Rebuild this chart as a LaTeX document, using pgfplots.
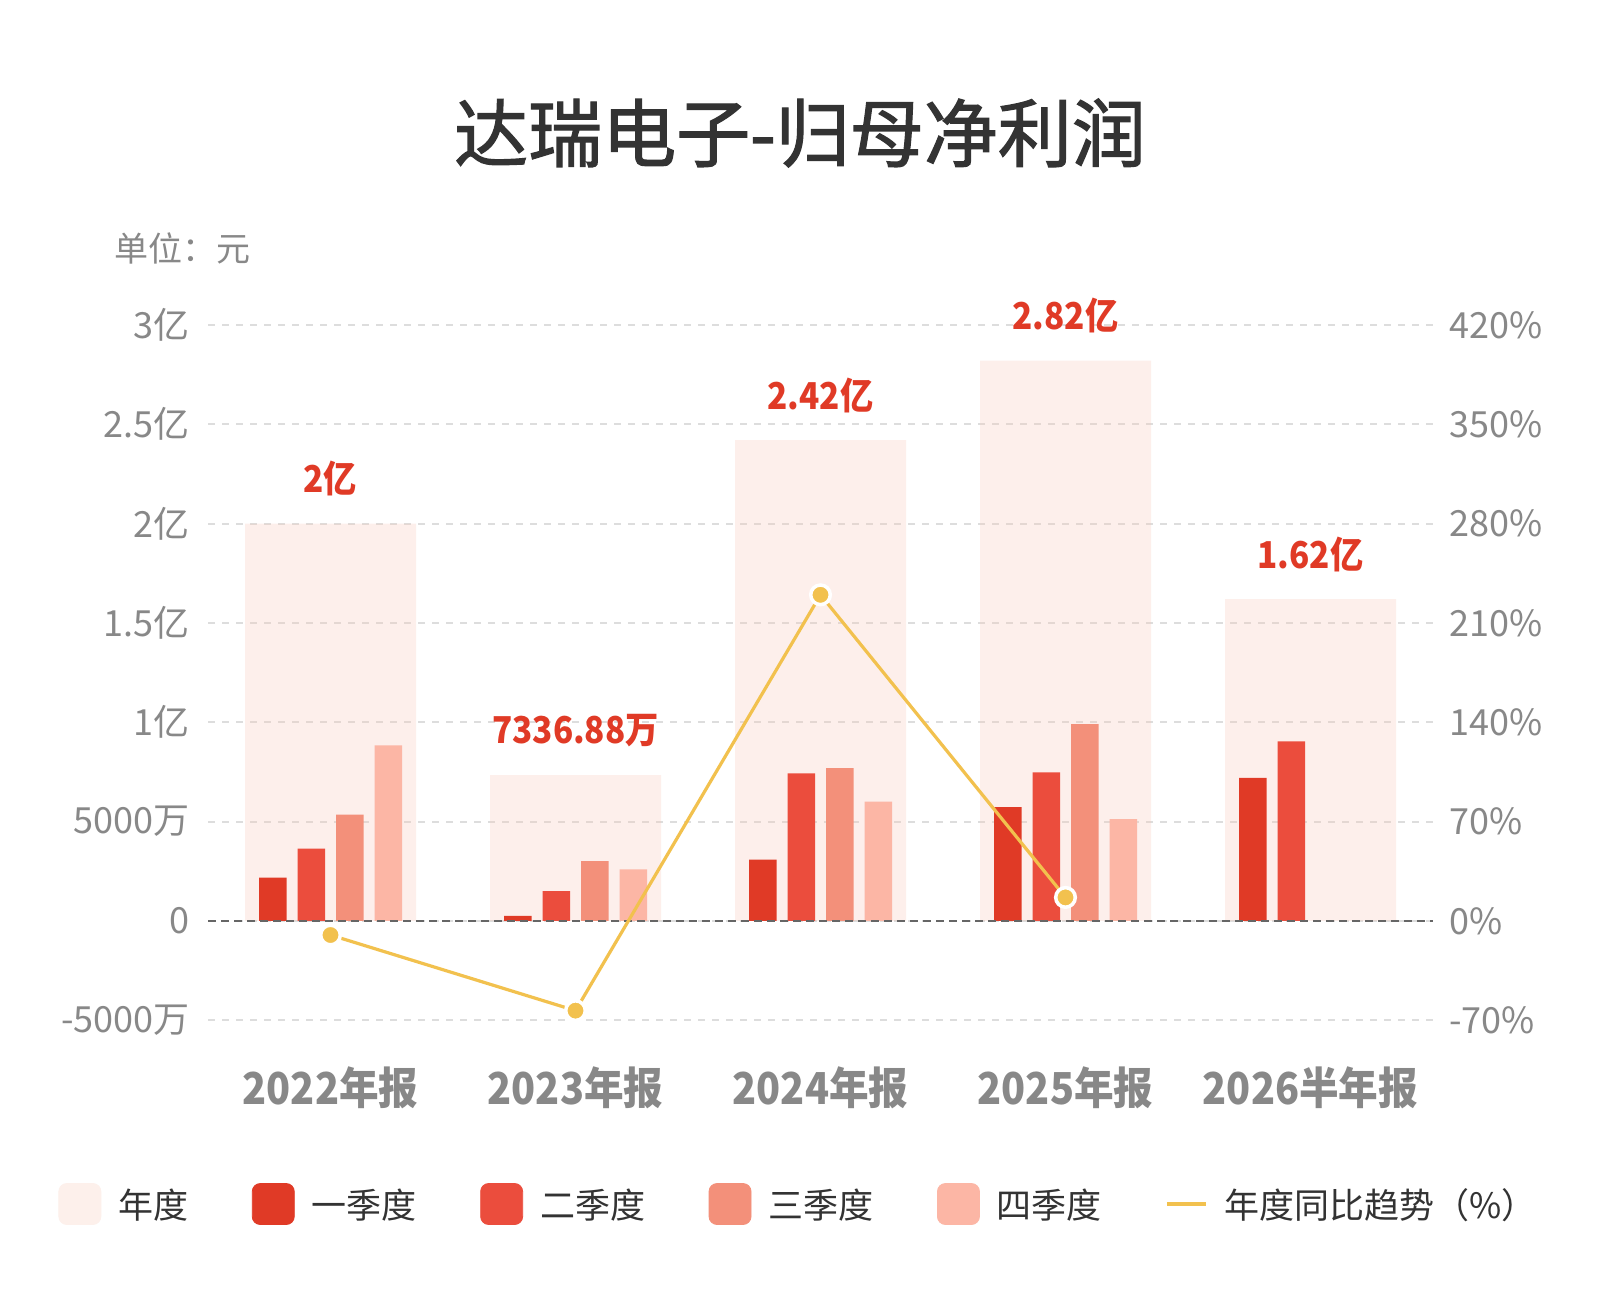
\documentclass[border=0pt]{standalone}
\usepackage{pgfplots}
\usepackage{pgfplotstable}
\pgfplotsset{compat=1.18}
\usepackage{fontspec}
\setmainfont{Noto Sans CJK SC}
\newfontfamily\condfont{Noto Sans CJK SC}[FakeStretch=0.9]
\newfontfamily\titlefont{Noto Sans CJK SC}[FakeBold=1.6]
\definecolor{annual}{HTML}{F9C9B8}
\definecolor{annualsolid}{HTML}{FDF0EB}
\definecolor{qa}{HTML}{E03A26}
\definecolor{qb}{HTML}{EB4D3D}
\definecolor{qc}{HTML}{F3907A}
\definecolor{qd}{HTML}{FCB6A5}
\definecolor{trend}{HTML}{F2C14E}
\definecolor{ticktxt}{HTML}{888888}
\definecolor{gridc}{HTML}{DDDDDD}
\definecolor{zeroc}{HTML}{666666}
\definecolor{titlec}{HTML}{333333}
\definecolor{legtxt}{HTML}{333333}
\definecolor{labred}{HTML}{E03A26}

\pgfplotstableread{
x annual label
0 2.00 2亿
1 0.7337 7336.88万
2 2.42 2.42亿
3 2.82 2.82亿
4 1.62 1.62亿
}\annualtab

\pgfplotstableread{
x q1 q2 q3 q4
0 0.218 0.364 0.535 0.883
1 0.025 0.150 0.300 0.2587
2 0.308 0.743 0.769 0.600
3 0.572 0.748 0.990 0.512
4 0.720 0.904 nan nan
}\quartab

\pgfplotstableread{
x g
0 -10.0
1 -63.3
2 229.8
3 16.5
}\trendtab

\begin{document}
\begin{tikzpicture}[x=1pt,y=1pt]
\useasboundingbox (0,0) rectangle (800,650);
\fill[white] (0,0) rectangle (800,650);
\node[font=\titlefont\fontsize{37}{40}\selectfont, text=titlec] at (400,583.5) {达瑞电子-归母净利润};
\node[anchor=west, font=\fontsize{17}{20}\selectfont, text=ticktxt, inner sep=0pt] at (57,526) {单位：元};

\begin{axis}[
  at={(104pt,130pt)}, anchor=south west,
  width=612.5pt, height=357.5pt, scale only axis,
  xmin=-0.5, xmax=4.5, ymin=-0.6, ymax=3,
  axis line style={draw=none}, major tick length=0pt,
  xtick={0,1,2,3,4},
  xticklabels={2022年报,2023年报,2024年报,2025年报,2026半年报},
  xticklabel style={font=\condfont\bfseries\fontsize{22}{24}\selectfont, text=ticktxt, anchor=center, inner sep=0pt, yshift=-24pt},
  ytick={-0.5,0,0.5,1,1.5,2,2.5,3},
  yticklabels={-5000万,0,5000万,1亿,1.5亿,2亿,2.5亿,3亿},
  yticklabel style={font=\fontsize{18}{20}\selectfont, text=ticktxt, anchor=east, inner sep=0pt, xshift=-9pt},
  ymajorgrids, grid style={gridc, line width=1pt, dash pattern=on 3.5pt off 3.5pt},
  clip=false,
  legend columns=-1,
  legend style={at={(-0.1224,-0.2294)}, anchor=west, draw=none, fill=none,
    inner xsep=0pt, inner ysep=0pt,
    font=\fontsize{17.5}{20}\selectfont,
    nodes={inner sep=0pt, text depth=0pt, text=legtxt},
    /tikz/every odd column/.append style={column sep=8.5pt},
    /tikz/every even column/.append style={column sep=31.8pt}},
]
\addplot[ybar, bar width=85.5pt, fill=annual, fill opacity=0.28, draw=none, forget plot]
  table[x=x,y=annual]{\annualtab};
\addplot[ybar, bar width=13.75pt, bar shift=-28.875pt, fill=qa, draw=none, forget plot]
  table[x=x,y=q1]{\quartab};
\addplot[ybar, bar width=13.75pt, bar shift=-9.625pt, fill=qb, draw=none, forget plot]
  table[x=x,y=q2]{\quartab};
\addplot[ybar, bar width=13.75pt, bar shift=9.625pt, fill=qc, draw=none, forget plot]
  table[x=x,y=q3]{\quartab};
\addplot[ybar, bar width=13.75pt, bar shift=28.875pt, fill=qd, draw=none, forget plot]
  table[x=x,y=q4]{\quartab};
\addplot[zeroc, line width=1pt, dash pattern=on 4pt off 2.5pt, forget plot]
  coordinates {(-0.5,0) (4.5,0)};
\addplot[draw=none, mark=none, forget plot, nodes near coords, point meta=explicit symbolic,
  every node near coord/.append style={font=\condfont\bfseries\fontsize{18.5}{20}\selectfont, text=labred, anchor=center, inner sep=0pt, yshift=22.5pt}]
  table[x=x,y=annual,meta=label]{\annualtab};

\addlegendimage{legend image code/.code={\fill[annualsolid, rounded corners=4pt] (0pt,-10.25pt) rectangle (21pt,10.25pt);}}
\addlegendentry{年度}
\addlegendimage{legend image code/.code={\fill[qa, rounded corners=4pt] (0pt,-10.25pt) rectangle (21pt,10.25pt);}}
\addlegendentry{一季度}
\addlegendimage{legend image code/.code={\fill[qb, rounded corners=4pt] (0pt,-10.25pt) rectangle (21pt,10.25pt);}}
\addlegendentry{二季度}
\addlegendimage{legend image code/.code={\fill[qc, rounded corners=4pt] (0pt,-10.25pt) rectangle (21pt,10.25pt);}}
\addlegendentry{三季度}
\addlegendimage{legend image code/.code={\fill[qd, rounded corners=4pt] (0pt,-10.25pt) rectangle (21pt,10.25pt);}}
\addlegendentry{四季度}
\addlegendimage{legend image code/.code={\draw[trend, line width=1.6pt] (0pt,0pt) -- (19.5pt,0pt);}}
\addlegendentry{年度同比趋势（\%）}
\end{axis}

\begin{axis}[
  at={(104pt,130pt)}, anchor=south west,
  width=612.5pt, height=357.5pt, scale only axis,
  xmin=-0.5, xmax=4.5, ymin=-84, ymax=420,
  axis line style={draw=none}, major tick length=0pt,
  xtick=\empty,
  ytick={-70,0,70,140,210,280,350,420},
  yticklabels={-70\%,0\%,70\%,140\%,210\%,280\%,350\%,420\%},
  yticklabel pos=right,
  yticklabel style={font=\fontsize{18}{20}\selectfont, text=ticktxt, anchor=west, inner sep=0pt, xshift=8pt},
  clip=false,
]
\addplot[trend, line width=1.6pt, mark=*, mark size=4.9pt, mark options={fill=trend, draw=white, line width=1.75pt}]
  table[x=x,y=g]{\trendtab};
\end{axis}
\end{tikzpicture}
\end{document}
